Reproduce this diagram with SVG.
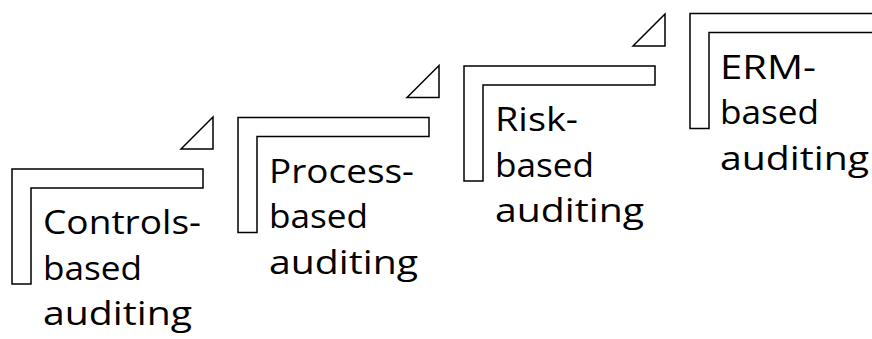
<svg xmlns="http://www.w3.org/2000/svg" width="872" height="339" viewBox="0 0 872 339">
<style>
.step{fill:#ffffff;stroke:#000000;stroke-width:1.5;stroke-linejoin:miter}
.tri{fill:#ffffff;stroke:#000000;stroke-width:1.5;stroke-linejoin:miter}
.lbl{font-family:"Open Sans","Liberation Sans",sans-serif;font-size:32px;fill:#000000}
</style>
<rect width="872" height="339" fill="#ffffff"/>
<g id="connectors">
<polygon class="tri" points="181,149 213,117 213,149"/>
<polygon class="tri" points="407,97.5 439,65.5 439,97.5"/>
<polygon class="tri" points="633,46 665,14 665,46"/>
</g>
<g id="controls-based">
<path class="step" d="M12,169 H203 V188 H31 V284 H12 Z"/>
<text class="lbl" x="43" y="234" textLength="158" lengthAdjust="spacingAndGlyphs">Controls-</text>
<text class="lbl" x="43" y="279.5" textLength="99" lengthAdjust="spacingAndGlyphs">based</text>
<text class="lbl" x="43" y="325" textLength="149" lengthAdjust="spacingAndGlyphs">auditing</text>
</g>
<g id="process-based">
<path class="step" d="M238,117.5 H429 V136.5 H257 V232.5 H238 Z"/>
<text class="lbl" x="269" y="182.5" textLength="145" lengthAdjust="spacingAndGlyphs">Process-</text>
<text class="lbl" x="269" y="228" textLength="99" lengthAdjust="spacingAndGlyphs">based</text>
<text class="lbl" x="269" y="273.5" textLength="149" lengthAdjust="spacingAndGlyphs">auditing</text>
</g>
<g id="risk-based">
<path class="step" d="M464,66 H655 V85 H483 V181 H464 Z"/>
<text class="lbl" x="495" y="131" textLength="83" lengthAdjust="spacingAndGlyphs">Risk-</text>
<text class="lbl" x="495" y="176.5" textLength="99" lengthAdjust="spacingAndGlyphs">based</text>
<text class="lbl" x="495" y="222" textLength="149" lengthAdjust="spacingAndGlyphs">auditing</text>
</g>
<g id="erm-based">
<path class="step" d="M690,13.5 H881 V32.5 H709 V128.5 H690 Z"/>
<text class="lbl" x="720" y="78.5" textLength="96" lengthAdjust="spacingAndGlyphs">ERM-</text>
<text class="lbl" x="720" y="124" textLength="99" lengthAdjust="spacingAndGlyphs">based</text>
<text class="lbl" x="720" y="169.5" textLength="149" lengthAdjust="spacingAndGlyphs">auditing</text>
</g>
</svg>
